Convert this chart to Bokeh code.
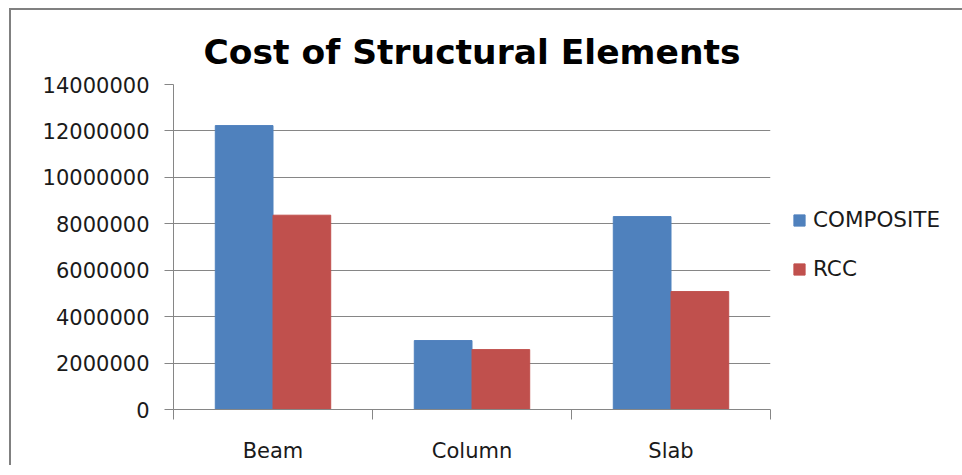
from bokeh.plotting import figure
from bokeh.models import (Range1d, LinearAxis, FixedTicker,
                          NumeralTickFormatter, Legend, LegendItem, ColumnDataSource)
from bokeh.transform import dodge
from bokeh.embed import file_html
from bokeh.resources import INLINE

categories = ["Beam", "Column", "Slab"]
composite = [12230000, 2970000, 8310000]
rcc = [8370000, 2580000, 5080000]
series_names = ["COMPOSITE", "RCC"]
y_ticks = [0, 2000000, 4000000, 6000000, 8000000, 10000000, 12000000, 14000000]

BLUE = "#4F81BD"
RED = "#C0504D"
GRID = "#868686"
FONT = "DejaVu Sans"
TXT = "#1a1a1a"

centers = [i + 0.5 for i in range(len(categories))]
src = ColumnDataSource(dict(x=centers, cat=categories, composite=composite, rcc=rcc))

p = figure(frame_width=597, frame_height=325, x_range=Range1d(0, len(categories)),
           y_range=Range1d(0, 14000000), output_backend="svg", toolbar_location=None,
           x_axis_location=None, y_axis_location=None,
           min_border_left=162, min_border_right=180, min_border_top=74, min_border_bottom=55)
p.styles = {"margin-left": "9px", "margin-top": "8px",
            "border-left": "2px solid #808080", "border-top": "2px solid #808080"}
p.outline_line_color = None
p.background_fill_color = "white"
p.border_fill_color = "white"

p.title.text = "Cost of Structural Elements"
p.title.text_font = "DejaVu Sans"
p.title.text_font_style = "bold"
p.title.text_font_size = "34.5px"
p.title.align = "center"
p.title.text_color = "black"
p.title.standoff = 26

# y axis
yax = LinearAxis(ticker=FixedTicker(ticks=y_ticks), formatter=NumeralTickFormatter(format="0"))
yax.axis_line_color = GRID
yax.major_tick_line_color = GRID
yax.major_tick_out = 9
yax.major_tick_in = 0
yax.minor_tick_line_color = None
yax.major_label_standoff = 15
yax.major_label_text_font = FONT
yax.major_label_text_font_size = "21px"
yax.major_label_text_color = TXT
p.add_layout(yax, "left")

# x axis (boundary ticks + category labels)
xax = LinearAxis(ticker=FixedTicker(ticks=centers, minor_ticks=list(range(len(categories) + 1))))
xax.major_label_overrides = {c: name for c, name in zip(centers, categories)}
xax.axis_line_color = GRID
xax.major_tick_line_color = None
xax.major_tick_out = 0
xax.major_tick_in = 0
xax.minor_tick_line_color = GRID
xax.minor_tick_out = 10
xax.minor_tick_in = 0
xax.major_label_standoff = 19
xax.major_label_text_font = FONT
xax.major_label_text_font_size = "21px"
xax.major_label_text_color = TXT
p.add_layout(xax, "below")

p.xgrid.visible = False
p.ygrid.ticker = FixedTicker(ticks=y_ticks)
p.ygrid.grid_line_color = GRID
p.ygrid.grid_line_width = 1

r1 = p.vbar(x=dodge("x", -0.145), top="composite", width=0.29,
            source=src, fill_color=BLUE, line_color=BLUE)
r2 = p.vbar(x=dodge("x", 0.145), top="rcc", width=0.29,
            source=src, fill_color=RED, line_color=RED)

legend = Legend(items=[LegendItem(label=series_names[0], renderers=[r1]),
                       LegendItem(label=series_names[1], renderers=[r2])],
                location=(22, 128))
legend.border_line_color = None
legend.background_fill_alpha = 0
legend.padding = 0
legend.margin = 0
legend.spacing = 24
legend.glyph_width = 14
legend.glyph_height = 14
legend.label_standoff = 7
legend.label_text_font = FONT
legend.label_text_font_size = "21.5px"
legend.label_text_color = TXT
legend.label_height = 22
p.add_layout(legend, "right")

open("out.html", "w").write(file_html(p, INLINE))
